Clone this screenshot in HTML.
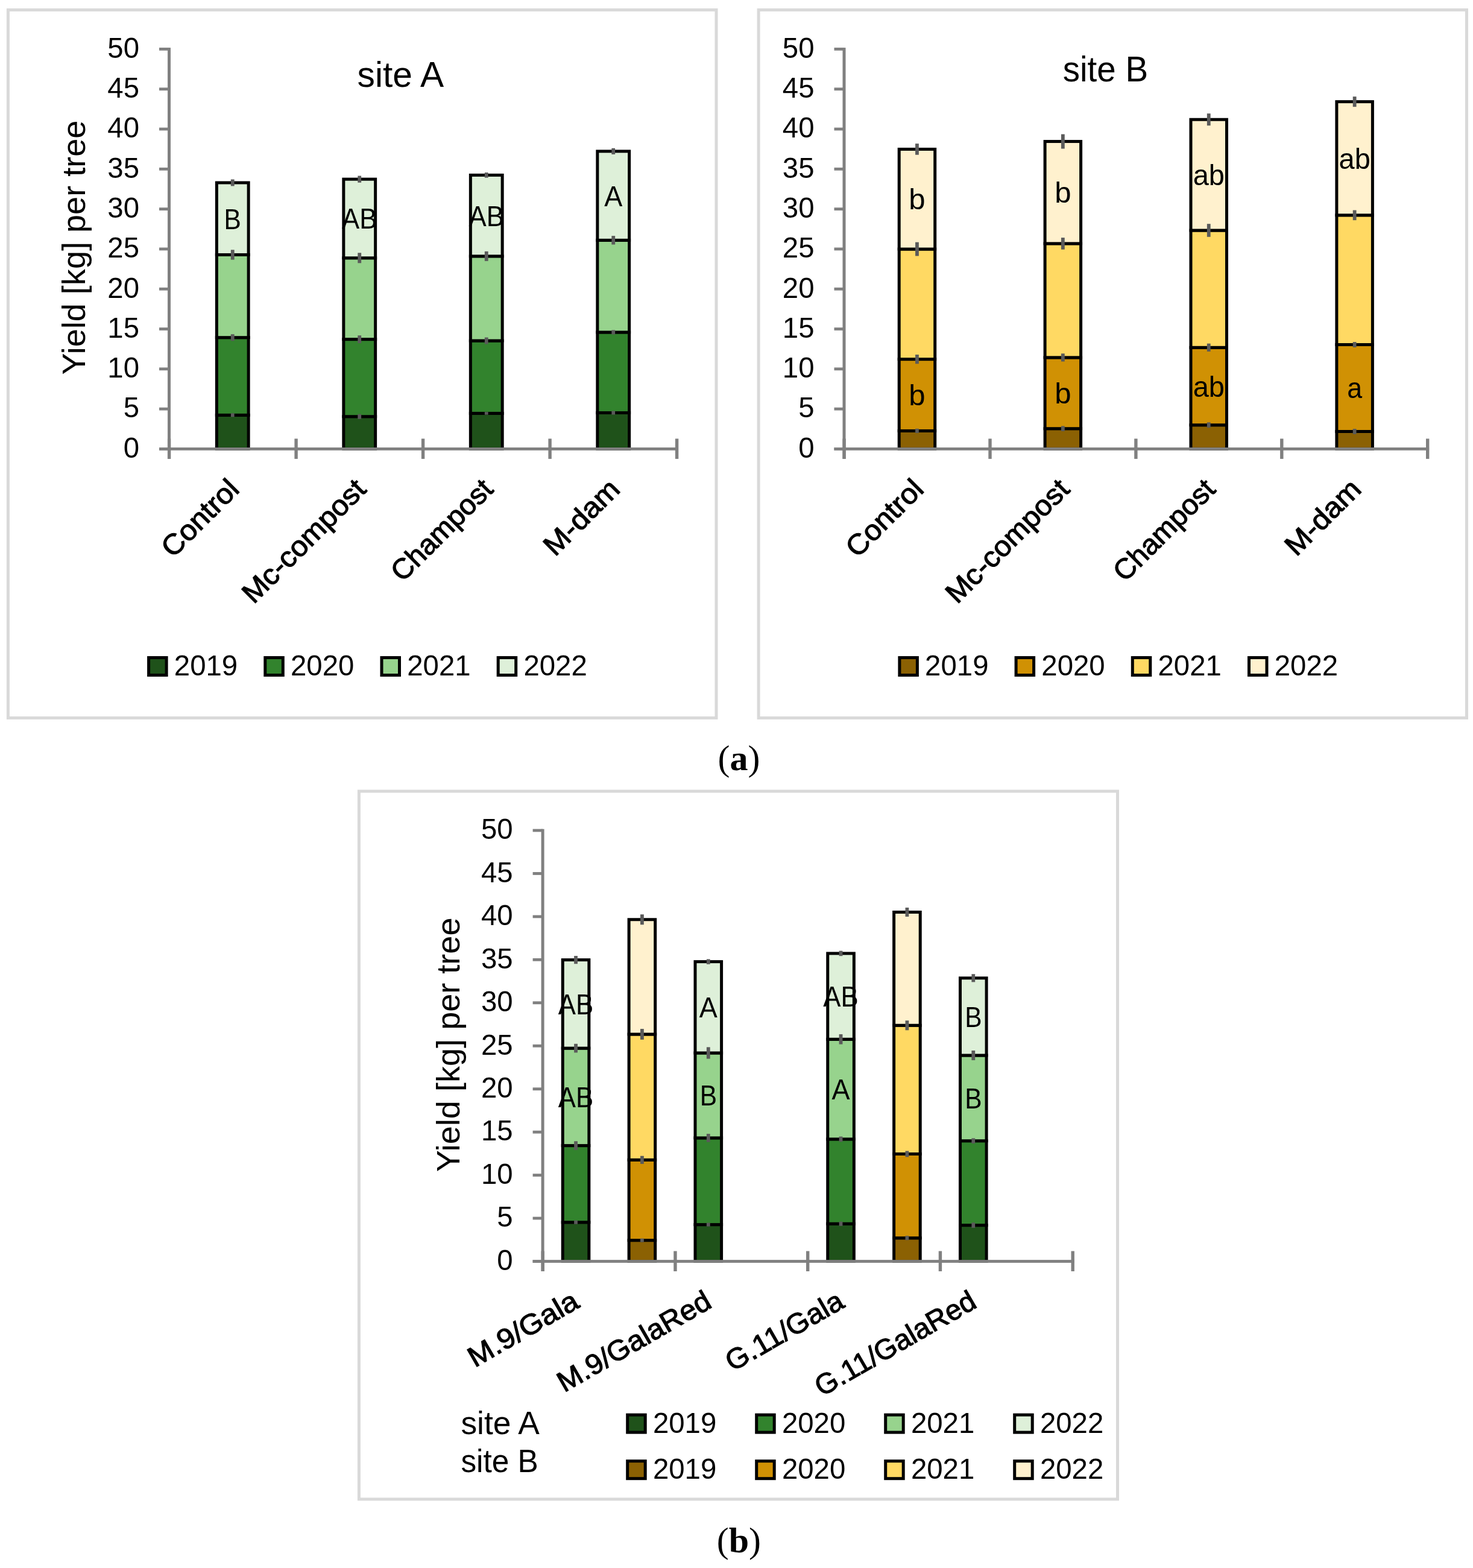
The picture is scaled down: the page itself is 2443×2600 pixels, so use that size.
<!DOCTYPE html><html><head><meta charset="utf-8"><title>Yield per tree</title><style>html,body{margin:0;padding:0;background:#fff;}svg{display:block;}text{font-family:"Liberation Sans", Arial, sans-serif;fill:#000;}text.cap{font-family:"Liberation Serif", "Times New Roman", serif;}</style></head><body>
<svg width="2443" height="2600" viewBox="0 0 2443 2600">
<rect width="2443" height="2600" fill="#fff"/>
<rect x="13.4" y="16.4" width="1174.6" height="1174" fill="none" stroke="#D9D9D9" stroke-width="5"/>
<rect x="1258.1" y="16.4" width="1174.4" height="1174" fill="none" stroke="#D9D9D9" stroke-width="5"/>
<rect x="595.4" y="1312" width="1258.1" height="1173.9" fill="none" stroke="#D9D9D9" stroke-width="5"/>
<rect x="359.35" y="688.31" width="52.8" height="56.09" fill="#1F521A" stroke="#000" stroke-width="5"/>
<rect x="359.35" y="559.69" width="52.8" height="128.62" fill="#32832D" stroke="#000" stroke-width="5"/>
<rect x="359.35" y="422.45" width="52.8" height="137.24" fill="#97D38D" stroke="#000" stroke-width="5"/>
<rect x="359.35" y="302.97" width="52.8" height="119.47" fill="#DEF0D9" stroke="#000" stroke-width="5"/>
<rect x="569.85" y="690.7" width="52.8" height="53.7" fill="#1F521A" stroke="#000" stroke-width="5"/>
<rect x="569.85" y="562.61" width="52.8" height="128.09" fill="#32832D" stroke="#000" stroke-width="5"/>
<rect x="569.85" y="427.75" width="52.8" height="134.85" fill="#97D38D" stroke="#000" stroke-width="5"/>
<rect x="569.85" y="297.14" width="52.8" height="130.61" fill="#DEF0D9" stroke="#000" stroke-width="5"/>
<rect x="780.35" y="685.39" width="52.8" height="59.01" fill="#1F521A" stroke="#000" stroke-width="5"/>
<rect x="780.35" y="564.99" width="52.8" height="120.4" fill="#32832D" stroke="#000" stroke-width="5"/>
<rect x="780.35" y="424.83" width="52.8" height="140.16" fill="#97D38D" stroke="#000" stroke-width="5"/>
<rect x="780.35" y="290.38" width="52.8" height="134.46" fill="#DEF0D9" stroke="#000" stroke-width="5"/>
<rect x="990.85" y="684.46" width="52.8" height="59.94" fill="#1F521A" stroke="#000" stroke-width="5"/>
<rect x="990.85" y="550.94" width="52.8" height="133.53" fill="#32832D" stroke="#000" stroke-width="5"/>
<rect x="990.85" y="398.31" width="52.8" height="152.62" fill="#97D38D" stroke="#000" stroke-width="5"/>
<rect x="990.85" y="250.86" width="52.8" height="147.45" fill="#DEF0D9" stroke="#000" stroke-width="5"/>
<rect x="382.85" y="685.31" width="5.8" height="6" fill="#5A5A5A"/>
<rect x="382.85" y="554.19" width="5.8" height="11" fill="#5A5A5A"/>
<rect x="382.85" y="414.25" width="5.8" height="16.4" fill="#5A5A5A"/>
<rect x="382.85" y="297.47" width="5.8" height="11" fill="#5A5A5A"/>
<rect x="593.35" y="686.7" width="5.8" height="8" fill="#5A5A5A"/>
<rect x="593.35" y="556.21" width="5.8" height="12.8" fill="#5A5A5A"/>
<rect x="593.35" y="419.25" width="5.8" height="17" fill="#5A5A5A"/>
<rect x="593.35" y="291.54" width="5.8" height="11.2" fill="#5A5A5A"/>
<rect x="803.85" y="683.09" width="5.8" height="4.6" fill="#5A5A5A"/>
<rect x="803.85" y="559.49" width="5.8" height="11" fill="#5A5A5A"/>
<rect x="803.85" y="416.83" width="5.8" height="16" fill="#5A5A5A"/>
<rect x="803.85" y="286.08" width="5.8" height="8.6" fill="#5A5A5A"/>
<rect x="1014.35" y="681.46" width="5.8" height="6" fill="#5A5A5A"/>
<rect x="1014.35" y="547.34" width="5.8" height="7.2" fill="#5A5A5A"/>
<rect x="1014.35" y="391.11" width="5.8" height="14.4" fill="#5A5A5A"/>
<rect x="1014.35" y="245.76" width="5.8" height="10.2" fill="#5A5A5A"/>
<text x="385.75" y="379.71" font-size="48.5" text-anchor="middle" textLength="28.29" lengthAdjust="spacingAndGlyphs">B</text>
<text x="596.25" y="379.45" font-size="48.5" text-anchor="middle" textLength="58.37" lengthAdjust="spacingAndGlyphs">AB</text>
<text x="806.75" y="374.61" font-size="48.5" text-anchor="middle" textLength="58.37" lengthAdjust="spacingAndGlyphs">AB</text>
<text x="1017.25" y="341.59" font-size="48.5" text-anchor="middle" textLength="30.09" lengthAdjust="spacingAndGlyphs">A</text>
<rect x="278" y="79.1" width="5" height="681.8" fill="#808080"/>
<rect x="264" y="742" width="16.5" height="4.8" fill="#808080"/>
<text x="231" y="758.7" font-size="48.5" text-anchor="end" textLength="26.36" lengthAdjust="spacingAndGlyphs">0</text>
<rect x="264" y="675.7" width="16.5" height="4.8" fill="#808080"/>
<text x="231" y="692.4" font-size="48.5" text-anchor="end" textLength="26.36" lengthAdjust="spacingAndGlyphs">5</text>
<rect x="264" y="609.4" width="16.5" height="4.8" fill="#808080"/>
<text x="231" y="626.1" font-size="48.5" text-anchor="end" textLength="52.71" lengthAdjust="spacingAndGlyphs">10</text>
<rect x="264" y="543.1" width="16.5" height="4.8" fill="#808080"/>
<text x="231" y="559.8" font-size="48.5" text-anchor="end" textLength="52.71" lengthAdjust="spacingAndGlyphs">15</text>
<rect x="264" y="476.8" width="16.5" height="4.8" fill="#808080"/>
<text x="231" y="493.5" font-size="48.5" text-anchor="end" textLength="52.71" lengthAdjust="spacingAndGlyphs">20</text>
<rect x="264" y="410.5" width="16.5" height="4.8" fill="#808080"/>
<text x="231" y="427.2" font-size="48.5" text-anchor="end" textLength="52.71" lengthAdjust="spacingAndGlyphs">25</text>
<rect x="264" y="344.2" width="16.5" height="4.8" fill="#808080"/>
<text x="231" y="360.9" font-size="48.5" text-anchor="end" textLength="52.71" lengthAdjust="spacingAndGlyphs">30</text>
<rect x="264" y="277.9" width="16.5" height="4.8" fill="#808080"/>
<text x="231" y="294.6" font-size="48.5" text-anchor="end" textLength="52.71" lengthAdjust="spacingAndGlyphs">35</text>
<rect x="264" y="211.6" width="16.5" height="4.8" fill="#808080"/>
<text x="231" y="228.3" font-size="48.5" text-anchor="end" textLength="52.71" lengthAdjust="spacingAndGlyphs">40</text>
<rect x="264" y="145.3" width="16.5" height="4.8" fill="#808080"/>
<text x="231" y="162" font-size="48.5" text-anchor="end" textLength="52.71" lengthAdjust="spacingAndGlyphs">45</text>
<rect x="264" y="79" width="16.5" height="4.8" fill="#808080"/>
<text x="231" y="95.7" font-size="48.5" text-anchor="end" textLength="52.71" lengthAdjust="spacingAndGlyphs">50</text>
<rect x="264" y="742" width="861" height="4.8" fill="#808080"/>
<rect x="277.9" y="727.4" width="5.4" height="33.5" fill="#808080"/>
<rect x="488.4" y="727.4" width="5.4" height="33.5" fill="#808080"/>
<rect x="698.9" y="727.4" width="5.4" height="33.5" fill="#808080"/>
<rect x="909.4" y="727.4" width="5.4" height="33.5" fill="#808080"/>
<rect x="1119.9" y="727.4" width="5.4" height="33.5" fill="#808080"/>
<text x="399.25" y="813.9" font-size="47.38" text-anchor="end" stroke="#000" stroke-width="1.15" textLength="159.08" lengthAdjust="spacingAndGlyphs" transform="rotate(-45 399.25 813.9)">Control</text>
<text x="609.75" y="813.9" font-size="47.38" text-anchor="end" stroke="#000" stroke-width="1.15" textLength="267.18" lengthAdjust="spacingAndGlyphs" transform="rotate(-45 609.75 813.9)">Mc-compost</text>
<text x="820.25" y="813.9" font-size="47.38" text-anchor="end" stroke="#000" stroke-width="1.15" textLength="215.93" lengthAdjust="spacingAndGlyphs" transform="rotate(-45 820.25 813.9)">Champost</text>
<text x="1030.75" y="813.9" font-size="47.38" text-anchor="end" stroke="#000" stroke-width="1.15" textLength="155.73" lengthAdjust="spacingAndGlyphs" transform="rotate(-45 1030.75 813.9)">M-dam</text>
<text x="592.6" y="143.9" font-size="59.31" textLength="143.6" lengthAdjust="spacingAndGlyphs">site A</text>
<text x="141" y="410.5" font-size="54.37" text-anchor="middle" textLength="421.88" lengthAdjust="spacingAndGlyphs" transform="rotate(-90 141 410.5)">Yield [kg] per tree</text>
<rect x="246.6" y="1090.5" width="29.5" height="29" fill="#1F521A" stroke="#000" stroke-width="5"/>
<text x="288.8" y="1120" font-size="48.5" textLength="105.42" lengthAdjust="spacingAndGlyphs">2019</text>
<rect x="439.8" y="1090.5" width="29.5" height="29" fill="#32832D" stroke="#000" stroke-width="5"/>
<text x="482" y="1120" font-size="48.5" textLength="105.42" lengthAdjust="spacingAndGlyphs">2020</text>
<rect x="633" y="1090.5" width="29.5" height="29" fill="#97D38D" stroke="#000" stroke-width="5"/>
<text x="675.2" y="1120" font-size="48.5" textLength="105.42" lengthAdjust="spacingAndGlyphs">2021</text>
<rect x="826.2" y="1090.5" width="29.5" height="29" fill="#DEF0D9" stroke="#000" stroke-width="5"/>
<text x="868.4" y="1120" font-size="48.5" textLength="105.42" lengthAdjust="spacingAndGlyphs">2022</text>
<rect x="1491.2" y="714.43" width="59.5" height="29.97" fill="#8B6103" stroke="#000" stroke-width="5"/>
<rect x="1491.2" y="595.62" width="59.5" height="118.81" fill="#D09104" stroke="#000" stroke-width="5"/>
<rect x="1491.2" y="413.03" width="59.5" height="182.59" fill="#FFD963" stroke="#000" stroke-width="5"/>
<rect x="1491.2" y="247.42" width="59.5" height="165.62" fill="#FFF1CE" stroke="#000" stroke-width="5"/>
<rect x="1733.1" y="710.72" width="59.5" height="33.68" fill="#8B6103" stroke="#000" stroke-width="5"/>
<rect x="1733.1" y="592.84" width="59.5" height="117.88" fill="#D09104" stroke="#000" stroke-width="5"/>
<rect x="1733.1" y="403.88" width="59.5" height="188.95" fill="#FFD963" stroke="#000" stroke-width="5"/>
<rect x="1733.1" y="234.55" width="59.5" height="169.33" fill="#FFF1CE" stroke="#000" stroke-width="5"/>
<rect x="1975" y="704.75" width="59.5" height="39.65" fill="#8B6103" stroke="#000" stroke-width="5"/>
<rect x="1975" y="576.26" width="59.5" height="128.49" fill="#D09104" stroke="#000" stroke-width="5"/>
<rect x="1975" y="382" width="59.5" height="194.26" fill="#FFD963" stroke="#000" stroke-width="5"/>
<rect x="1975" y="198.22" width="59.5" height="183.78" fill="#FFF1CE" stroke="#000" stroke-width="5"/>
<rect x="2216.9" y="715.49" width="59.5" height="28.91" fill="#8B6103" stroke="#000" stroke-width="5"/>
<rect x="2216.9" y="571.49" width="59.5" height="144" fill="#D09104" stroke="#000" stroke-width="5"/>
<rect x="2216.9" y="356.81" width="59.5" height="214.68" fill="#FFD963" stroke="#000" stroke-width="5"/>
<rect x="2216.9" y="168.65" width="59.5" height="188.16" fill="#FFF1CE" stroke="#000" stroke-width="5"/>
<rect x="1518.05" y="710.83" width="5.8" height="7.2" fill="#5A5A5A"/>
<rect x="1518.05" y="588.02" width="5.8" height="15.2" fill="#5A5A5A"/>
<rect x="1518.05" y="401.63" width="5.8" height="22.8" fill="#5A5A5A"/>
<rect x="1518.05" y="238.12" width="5.8" height="18.6" fill="#5A5A5A"/>
<rect x="1759.95" y="706.42" width="5.8" height="8.6" fill="#5A5A5A"/>
<rect x="1759.95" y="586.24" width="5.8" height="13.2" fill="#5A5A5A"/>
<rect x="1759.95" y="394.08" width="5.8" height="19.6" fill="#5A5A5A"/>
<rect x="1759.95" y="222.55" width="5.8" height="24" fill="#5A5A5A"/>
<rect x="2001.85" y="700.35" width="5.8" height="8.8" fill="#5A5A5A"/>
<rect x="2001.85" y="569.66" width="5.8" height="13.2" fill="#5A5A5A"/>
<rect x="2001.85" y="371.2" width="5.8" height="21.6" fill="#5A5A5A"/>
<rect x="2001.85" y="188.22" width="5.8" height="20" fill="#5A5A5A"/>
<rect x="2243.75" y="711.09" width="5.8" height="8.8" fill="#5A5A5A"/>
<rect x="2243.75" y="567.09" width="5.8" height="8.8" fill="#5A5A5A"/>
<rect x="2243.75" y="348.51" width="5.8" height="16.6" fill="#5A5A5A"/>
<rect x="2243.75" y="160.15" width="5.8" height="17" fill="#5A5A5A"/>
<text x="1520.95" y="672.03" font-size="48.5" text-anchor="middle" textLength="27.32" lengthAdjust="spacingAndGlyphs">b</text>
<text x="1520.95" y="347.22" font-size="48.5" text-anchor="middle" textLength="27.32" lengthAdjust="spacingAndGlyphs">b</text>
<text x="1762.85" y="668.78" font-size="48.5" text-anchor="middle" textLength="27.32" lengthAdjust="spacingAndGlyphs">b</text>
<text x="1762.85" y="336.22" font-size="48.5" text-anchor="middle" textLength="27.32" lengthAdjust="spacingAndGlyphs">b</text>
<text x="2004.75" y="657.51" font-size="48.5" text-anchor="middle" textLength="52.23" lengthAdjust="spacingAndGlyphs">ab</text>
<text x="2004.75" y="307.11" font-size="48.5" text-anchor="middle" textLength="52.23" lengthAdjust="spacingAndGlyphs">ab</text>
<text x="2246.65" y="660.49" font-size="48.5" text-anchor="middle" textLength="24.91" lengthAdjust="spacingAndGlyphs">a</text>
<text x="2246.65" y="279.73" font-size="48.5" text-anchor="middle" textLength="52.23" lengthAdjust="spacingAndGlyphs">ab</text>
<rect x="1397.5" y="79.1" width="5" height="681.8" fill="#808080"/>
<rect x="1383.5" y="742" width="16.5" height="4.8" fill="#808080"/>
<text x="1350.5" y="758.7" font-size="48.5" text-anchor="end" textLength="26.36" lengthAdjust="spacingAndGlyphs">0</text>
<rect x="1383.5" y="675.7" width="16.5" height="4.8" fill="#808080"/>
<text x="1350.5" y="692.4" font-size="48.5" text-anchor="end" textLength="26.36" lengthAdjust="spacingAndGlyphs">5</text>
<rect x="1383.5" y="609.4" width="16.5" height="4.8" fill="#808080"/>
<text x="1350.5" y="626.1" font-size="48.5" text-anchor="end" textLength="52.71" lengthAdjust="spacingAndGlyphs">10</text>
<rect x="1383.5" y="543.1" width="16.5" height="4.8" fill="#808080"/>
<text x="1350.5" y="559.8" font-size="48.5" text-anchor="end" textLength="52.71" lengthAdjust="spacingAndGlyphs">15</text>
<rect x="1383.5" y="476.8" width="16.5" height="4.8" fill="#808080"/>
<text x="1350.5" y="493.5" font-size="48.5" text-anchor="end" textLength="52.71" lengthAdjust="spacingAndGlyphs">20</text>
<rect x="1383.5" y="410.5" width="16.5" height="4.8" fill="#808080"/>
<text x="1350.5" y="427.2" font-size="48.5" text-anchor="end" textLength="52.71" lengthAdjust="spacingAndGlyphs">25</text>
<rect x="1383.5" y="344.2" width="16.5" height="4.8" fill="#808080"/>
<text x="1350.5" y="360.9" font-size="48.5" text-anchor="end" textLength="52.71" lengthAdjust="spacingAndGlyphs">30</text>
<rect x="1383.5" y="277.9" width="16.5" height="4.8" fill="#808080"/>
<text x="1350.5" y="294.6" font-size="48.5" text-anchor="end" textLength="52.71" lengthAdjust="spacingAndGlyphs">35</text>
<rect x="1383.5" y="211.6" width="16.5" height="4.8" fill="#808080"/>
<text x="1350.5" y="228.3" font-size="48.5" text-anchor="end" textLength="52.71" lengthAdjust="spacingAndGlyphs">40</text>
<rect x="1383.5" y="145.3" width="16.5" height="4.8" fill="#808080"/>
<text x="1350.5" y="162" font-size="48.5" text-anchor="end" textLength="52.71" lengthAdjust="spacingAndGlyphs">45</text>
<rect x="1383.5" y="79" width="16.5" height="4.8" fill="#808080"/>
<text x="1350.5" y="95.7" font-size="48.5" text-anchor="end" textLength="52.71" lengthAdjust="spacingAndGlyphs">50</text>
<rect x="1383.5" y="742" width="986.6" height="4.8" fill="#808080"/>
<rect x="1397.4" y="727.4" width="5.4" height="33.5" fill="#808080"/>
<rect x="1639.3" y="727.4" width="5.4" height="33.5" fill="#808080"/>
<rect x="1881.2" y="727.4" width="5.4" height="33.5" fill="#808080"/>
<rect x="2123.1" y="727.4" width="5.4" height="33.5" fill="#808080"/>
<rect x="2365" y="727.4" width="5.4" height="33.5" fill="#808080"/>
<text x="1534.45" y="813.9" font-size="47.38" text-anchor="end" stroke="#000" stroke-width="1.15" textLength="159.08" lengthAdjust="spacingAndGlyphs" transform="rotate(-45 1534.45 813.9)">Control</text>
<text x="1776.35" y="813.9" font-size="47.38" text-anchor="end" stroke="#000" stroke-width="1.15" textLength="267.18" lengthAdjust="spacingAndGlyphs" transform="rotate(-45 1776.35 813.9)">Mc-compost</text>
<text x="2018.25" y="813.9" font-size="47.38" text-anchor="end" stroke="#000" stroke-width="1.15" textLength="215.93" lengthAdjust="spacingAndGlyphs" transform="rotate(-45 2018.25 813.9)">Champost</text>
<text x="2260.15" y="813.9" font-size="47.38" text-anchor="end" stroke="#000" stroke-width="1.15" textLength="155.73" lengthAdjust="spacingAndGlyphs" transform="rotate(-45 2260.15 813.9)">M-dam</text>
<text x="1762.8" y="134.8" font-size="59.31" textLength="141.39" lengthAdjust="spacingAndGlyphs">site B</text>
<rect x="1491.9" y="1090.5" width="29.5" height="29" fill="#8B6103" stroke="#000" stroke-width="5"/>
<text x="1534.1" y="1120" font-size="48.5" textLength="105.42" lengthAdjust="spacingAndGlyphs">2019</text>
<rect x="1685.1" y="1090.5" width="29.5" height="29" fill="#D09104" stroke="#000" stroke-width="5"/>
<text x="1727.3" y="1120" font-size="48.5" textLength="105.42" lengthAdjust="spacingAndGlyphs">2020</text>
<rect x="1878.3" y="1090.5" width="29.5" height="29" fill="#FFD963" stroke="#000" stroke-width="5"/>
<text x="1920.5" y="1120" font-size="48.5" textLength="105.42" lengthAdjust="spacingAndGlyphs">2021</text>
<rect x="2071.5" y="1090.5" width="29.5" height="29" fill="#FFF1CE" stroke="#000" stroke-width="5"/>
<text x="2113.7" y="1120" font-size="48.5" textLength="105.42" lengthAdjust="spacingAndGlyphs">2022</text>
<rect x="933.24" y="2026.77" width="43.6" height="64.73" fill="#1F521A" stroke="#000" stroke-width="5"/>
<rect x="933.24" y="1899.59" width="43.6" height="127.18" fill="#32832D" stroke="#000" stroke-width="5"/>
<rect x="933.24" y="1738.11" width="43.6" height="161.48" fill="#97D38D" stroke="#000" stroke-width="5"/>
<rect x="933.24" y="1591.64" width="43.6" height="146.47" fill="#DEF0D9" stroke="#000" stroke-width="5"/>
<rect x="1043.11" y="2056.63" width="43.6" height="34.87" fill="#8B6103" stroke="#000" stroke-width="5"/>
<rect x="1043.11" y="1923.31" width="43.6" height="133.33" fill="#D09104" stroke="#000" stroke-width="5"/>
<rect x="1043.11" y="1714.96" width="43.6" height="208.35" fill="#FFD963" stroke="#000" stroke-width="5"/>
<rect x="1043.11" y="1524.76" width="43.6" height="190.2" fill="#FFF1CE" stroke="#000" stroke-width="5"/>
<rect x="1152.99" y="2030.62" width="43.6" height="60.88" fill="#1F521A" stroke="#000" stroke-width="5"/>
<rect x="1152.99" y="1886.87" width="43.6" height="143.76" fill="#32832D" stroke="#000" stroke-width="5"/>
<rect x="1152.99" y="1745.97" width="43.6" height="140.9" fill="#97D38D" stroke="#000" stroke-width="5"/>
<rect x="1152.99" y="1594.64" width="43.6" height="151.33" fill="#DEF0D9" stroke="#000" stroke-width="5"/>
<rect x="1372.74" y="2029.2" width="43.6" height="62.3" fill="#1F521A" stroke="#000" stroke-width="5"/>
<rect x="1372.74" y="1888.87" width="43.6" height="140.33" fill="#32832D" stroke="#000" stroke-width="5"/>
<rect x="1372.74" y="1723.25" width="43.6" height="165.62" fill="#97D38D" stroke="#000" stroke-width="5"/>
<rect x="1372.74" y="1580.92" width="43.6" height="142.33" fill="#DEF0D9" stroke="#000" stroke-width="5"/>
<rect x="1482.61" y="2052.77" width="43.6" height="38.73" fill="#8B6103" stroke="#000" stroke-width="5"/>
<rect x="1482.61" y="1913.45" width="43.6" height="139.33" fill="#D09104" stroke="#000" stroke-width="5"/>
<rect x="1482.61" y="1700.24" width="43.6" height="213.21" fill="#FFD963" stroke="#000" stroke-width="5"/>
<rect x="1482.61" y="1512.47" width="43.6" height="187.77" fill="#FFF1CE" stroke="#000" stroke-width="5"/>
<rect x="1592.49" y="2031.62" width="43.6" height="59.88" fill="#1F521A" stroke="#000" stroke-width="5"/>
<rect x="1592.49" y="1891.73" width="43.6" height="139.9" fill="#32832D" stroke="#000" stroke-width="5"/>
<rect x="1592.49" y="1749.97" width="43.6" height="141.76" fill="#97D38D" stroke="#000" stroke-width="5"/>
<rect x="1592.49" y="1621.79" width="43.6" height="128.18" fill="#DEF0D9" stroke="#000" stroke-width="5"/>
<rect x="952.14" y="2023.77" width="5.8" height="6" fill="#5A5A5A"/>
<rect x="952.14" y="1892.29" width="5.8" height="14.6" fill="#5A5A5A"/>
<rect x="952.14" y="1730.81" width="5.8" height="14.6" fill="#5A5A5A"/>
<rect x="952.14" y="1585.04" width="5.8" height="13.2" fill="#5A5A5A"/>
<rect x="1062.01" y="2053.63" width="5.8" height="6" fill="#5A5A5A"/>
<rect x="1062.01" y="1916.71" width="5.8" height="13.2" fill="#5A5A5A"/>
<rect x="1062.01" y="1706.06" width="5.8" height="17.8" fill="#5A5A5A"/>
<rect x="1062.01" y="1516.26" width="5.8" height="17" fill="#5A5A5A"/>
<rect x="1171.89" y="2027.62" width="5.8" height="6" fill="#5A5A5A"/>
<rect x="1171.89" y="1880.07" width="5.8" height="13.6" fill="#5A5A5A"/>
<rect x="1171.89" y="1736.37" width="5.8" height="19.2" fill="#5A5A5A"/>
<rect x="1171.89" y="1590.44" width="5.8" height="8.4" fill="#5A5A5A"/>
<rect x="1391.64" y="2025.7" width="5.8" height="7" fill="#5A5A5A"/>
<rect x="1391.64" y="1884.57" width="5.8" height="8.6" fill="#5A5A5A"/>
<rect x="1391.64" y="1714.95" width="5.8" height="16.6" fill="#5A5A5A"/>
<rect x="1391.64" y="1576.62" width="5.8" height="8.6" fill="#5A5A5A"/>
<rect x="1501.51" y="2049.27" width="5.8" height="7" fill="#5A5A5A"/>
<rect x="1501.51" y="1908.45" width="5.8" height="10" fill="#5A5A5A"/>
<rect x="1501.51" y="1692.24" width="5.8" height="16" fill="#5A5A5A"/>
<rect x="1501.51" y="1504.97" width="5.8" height="15" fill="#5A5A5A"/>
<rect x="1611.39" y="2027.32" width="5.8" height="8.6" fill="#5A5A5A"/>
<rect x="1611.39" y="1887.43" width="5.8" height="8.6" fill="#5A5A5A"/>
<rect x="1611.39" y="1741.97" width="5.8" height="16" fill="#5A5A5A"/>
<rect x="1611.39" y="1615.19" width="5.8" height="13.2" fill="#5A5A5A"/>
<text x="955.04" y="1835.85" font-size="48.5" text-anchor="middle" textLength="58.37" lengthAdjust="spacingAndGlyphs">AB</text>
<text x="955.04" y="1681.87" font-size="48.5" text-anchor="middle" textLength="58.37" lengthAdjust="spacingAndGlyphs">AB</text>
<text x="1174.79" y="1833.42" font-size="48.5" text-anchor="middle" textLength="28.29" lengthAdjust="spacingAndGlyphs">B</text>
<text x="1174.79" y="1687.3" font-size="48.5" text-anchor="middle" textLength="30.09" lengthAdjust="spacingAndGlyphs">A</text>
<text x="1394.54" y="1823.06" font-size="48.5" text-anchor="middle" textLength="30.09" lengthAdjust="spacingAndGlyphs">A</text>
<text x="1394.54" y="1669.08" font-size="48.5" text-anchor="middle" textLength="58.37" lengthAdjust="spacingAndGlyphs">AB</text>
<text x="1614.29" y="1837.85" font-size="48.5" text-anchor="middle" textLength="28.29" lengthAdjust="spacingAndGlyphs">B</text>
<text x="1614.29" y="1702.88" font-size="48.5" text-anchor="middle" textLength="28.29" lengthAdjust="spacingAndGlyphs">B</text>
<rect x="897.6" y="1374.7" width="5" height="733.3" fill="#808080"/>
<rect x="883.6" y="2089.1" width="16.5" height="4.8" fill="#808080"/>
<text x="850.6" y="2105.8" font-size="48.5" text-anchor="end" textLength="26.36" lengthAdjust="spacingAndGlyphs">0</text>
<rect x="883.6" y="2017.65" width="16.5" height="4.8" fill="#808080"/>
<text x="850.6" y="2034.35" font-size="48.5" text-anchor="end" textLength="26.36" lengthAdjust="spacingAndGlyphs">5</text>
<rect x="883.6" y="1946.2" width="16.5" height="4.8" fill="#808080"/>
<text x="850.6" y="1962.9" font-size="48.5" text-anchor="end" textLength="52.71" lengthAdjust="spacingAndGlyphs">10</text>
<rect x="883.6" y="1874.75" width="16.5" height="4.8" fill="#808080"/>
<text x="850.6" y="1891.45" font-size="48.5" text-anchor="end" textLength="52.71" lengthAdjust="spacingAndGlyphs">15</text>
<rect x="883.6" y="1803.3" width="16.5" height="4.8" fill="#808080"/>
<text x="850.6" y="1820" font-size="48.5" text-anchor="end" textLength="52.71" lengthAdjust="spacingAndGlyphs">20</text>
<rect x="883.6" y="1731.85" width="16.5" height="4.8" fill="#808080"/>
<text x="850.6" y="1748.55" font-size="48.5" text-anchor="end" textLength="52.71" lengthAdjust="spacingAndGlyphs">25</text>
<rect x="883.6" y="1660.4" width="16.5" height="4.8" fill="#808080"/>
<text x="850.6" y="1677.1" font-size="48.5" text-anchor="end" textLength="52.71" lengthAdjust="spacingAndGlyphs">30</text>
<rect x="883.6" y="1588.95" width="16.5" height="4.8" fill="#808080"/>
<text x="850.6" y="1605.65" font-size="48.5" text-anchor="end" textLength="52.71" lengthAdjust="spacingAndGlyphs">35</text>
<rect x="883.6" y="1517.5" width="16.5" height="4.8" fill="#808080"/>
<text x="850.6" y="1534.2" font-size="48.5" text-anchor="end" textLength="52.71" lengthAdjust="spacingAndGlyphs">40</text>
<rect x="883.6" y="1446.05" width="16.5" height="4.8" fill="#808080"/>
<text x="850.6" y="1462.75" font-size="48.5" text-anchor="end" textLength="52.71" lengthAdjust="spacingAndGlyphs">45</text>
<rect x="883.6" y="1374.6" width="16.5" height="4.8" fill="#808080"/>
<text x="850.6" y="1391.3" font-size="48.5" text-anchor="end" textLength="52.71" lengthAdjust="spacingAndGlyphs">50</text>
<rect x="883.6" y="2089.1" width="898" height="4.8" fill="#808080"/>
<rect x="897.5" y="2074.5" width="5.4" height="33.5" fill="#808080"/>
<rect x="1117.25" y="2074.5" width="5.4" height="33.5" fill="#808080"/>
<rect x="1337" y="2074.5" width="5.4" height="33.5" fill="#808080"/>
<rect x="1556.75" y="2074.5" width="5.4" height="33.5" fill="#808080"/>
<rect x="1776.5" y="2074.5" width="5.4" height="33.5" fill="#808080"/>
<text x="963.48" y="2166.5" font-size="47.38" text-anchor="end" stroke="#000" stroke-width="1.15" textLength="203.31" lengthAdjust="spacingAndGlyphs" transform="rotate(-30 963.48 2166.5)">M.9/Gala</text>
<text x="1183.22" y="2166.5" font-size="47.38" text-anchor="end" stroke="#000" stroke-width="1.15" textLength="285.87" lengthAdjust="spacingAndGlyphs" transform="rotate(-30 1183.22 2166.5)">M.9/GalaRed</text>
<text x="1402.97" y="2166.5" font-size="47.38" text-anchor="end" stroke="#000" stroke-width="1.15" textLength="217.22" lengthAdjust="spacingAndGlyphs" transform="rotate(-30 1402.97 2166.5)">G.11/Gala</text>
<text x="1622.72" y="2166.5" font-size="47.38" text-anchor="end" stroke="#000" stroke-width="1.15" textLength="299.77" lengthAdjust="spacingAndGlyphs" transform="rotate(-30 1622.72 2166.5)">G.11/GalaRed</text>
<text x="762.3" y="1732.4" font-size="54.37" text-anchor="middle" textLength="421.88" lengthAdjust="spacingAndGlyphs" transform="rotate(-90 762.3 1732.4)">Yield [kg] per tree</text>
<text x="764.4" y="2377.6" font-size="53.9" textLength="130.5" lengthAdjust="spacingAndGlyphs">site A</text>
<text x="764.4" y="2441.4" font-size="53.9" textLength="128.5" lengthAdjust="spacingAndGlyphs">site B</text>
<rect x="1040.7" y="2346.1" width="29.5" height="29" fill="#1F521A" stroke="#000" stroke-width="5"/>
<text x="1082.9" y="2375.6" font-size="48.5" textLength="105.42" lengthAdjust="spacingAndGlyphs">2019</text>
<rect x="1254.7" y="2346.1" width="29.5" height="29" fill="#32832D" stroke="#000" stroke-width="5"/>
<text x="1296.9" y="2375.6" font-size="48.5" textLength="105.42" lengthAdjust="spacingAndGlyphs">2020</text>
<rect x="1468.7" y="2346.1" width="29.5" height="29" fill="#97D38D" stroke="#000" stroke-width="5"/>
<text x="1510.9" y="2375.6" font-size="48.5" textLength="105.42" lengthAdjust="spacingAndGlyphs">2021</text>
<rect x="1682.7" y="2346.1" width="29.5" height="29" fill="#DEF0D9" stroke="#000" stroke-width="5"/>
<text x="1724.9" y="2375.6" font-size="48.5" textLength="105.42" lengthAdjust="spacingAndGlyphs">2022</text>
<rect x="1040.7" y="2422.7" width="29.5" height="29" fill="#8B6103" stroke="#000" stroke-width="5"/>
<text x="1082.9" y="2452.2" font-size="48.5" textLength="105.42" lengthAdjust="spacingAndGlyphs">2019</text>
<rect x="1254.7" y="2422.7" width="29.5" height="29" fill="#D09104" stroke="#000" stroke-width="5"/>
<text x="1296.9" y="2452.2" font-size="48.5" textLength="105.42" lengthAdjust="spacingAndGlyphs">2020</text>
<rect x="1468.7" y="2422.7" width="29.5" height="29" fill="#FFD963" stroke="#000" stroke-width="5"/>
<text x="1510.9" y="2452.2" font-size="48.5" textLength="105.42" lengthAdjust="spacingAndGlyphs">2021</text>
<rect x="1682.7" y="2422.7" width="29.5" height="29" fill="#FFF1CE" stroke="#000" stroke-width="5"/>
<text x="1724.9" y="2452.2" font-size="48.5" textLength="105.42" lengthAdjust="spacingAndGlyphs">2022</text>
<text class="cap" x="1225.5" y="1276.9" font-size="60" text-anchor="middle">(<tspan font-weight="bold">a</tspan>)</text>
<text class="cap" x="1225.4" y="2573.6" font-size="60" text-anchor="middle">(<tspan font-weight="bold">b</tspan>)</text>
</svg></body></html>
